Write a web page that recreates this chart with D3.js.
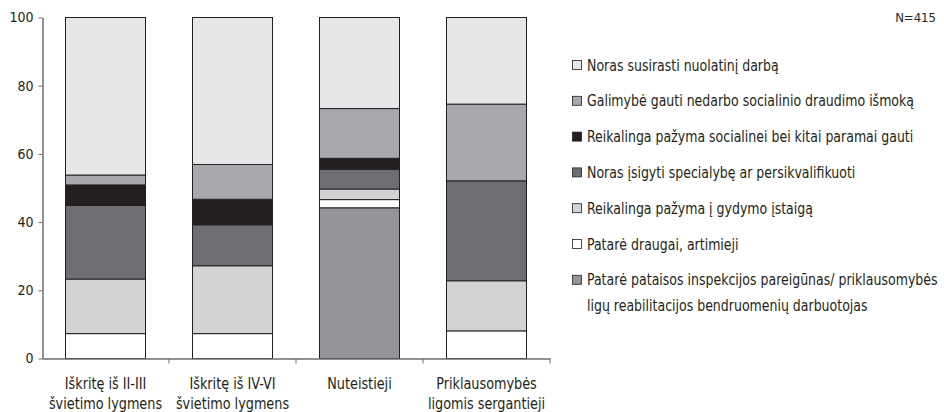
<!doctype html>
<html>
<head>
	<meta charset="utf-8">
	<script src="https://cdnjs.cloudflare.com/ajax/libs/d3/7.8.5/d3.min.js"></script>
	<style>
		body { margin: 0; background: #fff; }
		svg text { font-family: "Liberation Sans Narrow", "DejaVu Sans Condensed", "Roboto", sans-serif; fill: #231f20; }
		.axis path, .axis line { stroke: #6d6e71; }
	</style>
</head>
<body>
	<script>
		// categories (x axis), two lines each
		var categories = ["Iškritę iš II-III|švietimo lygmens", "Iškritę iš IV-VI|švietimo lygmens", "Nuteistieji", "Priklausomybės|ligomis sergantieji"];

		// series, stacked bottom to top
		var seriesNames = [
			"Patarė pataisos inspekcijos pareigūnas/ priklausomybės|ligų reabilitacijos bendruomenių darbuotojas",
			"Patarė draugai, artimieji",
			"Reikalinga pažyma į gydymo įstaigą",
			"Noras įsigyti specialybę ar persikvalifikuoti",
			"Reikalinga pažyma socialinei bei kitai paramai gauti",
			"Galimybė gauti nedarbo socialinio draudimo išmoką",
			"Noras susirasti nuolatinį darbą"
		];
		var seriesColors = ["#939598", "#ffffff", "#d1d3d4", "#6d6e71", "#231f20", "#a7a9ac", "#e6e7e8"];

		var inspekcija   = [0, 0, 44.2, 0];
		var draugai      = [7.3, 7.3, 2.4, 8.1];
		var gydymo       = [16.0, 19.9, 3.1, 14.7];
		var specialybe   = [21.6, 12.0, 5.8, 29.3];
		var socialinei   = [6.0, 7.5, 3.2, 0];
		var nedarbo      = [2.9, 10.2, 14.6, 22.5];
		var darbas       = [46.2, 43.1, 26.7, 25.4];
		var seriesValues = [inspekcija, draugai, gydymo, specialybe, socialinei, nedarbo, darbas];

		var yTicks = [0, 20, 40, 60, 80, 100];
		var legendOrder = [6, 5, 4, 3, 2, 1, 0];

		var width = 944, height = 412;
		var svg = d3.select("body").append("svg")
			.attr("width", width)
			.attr("height", height);

		var xScale = d3.scaleBand().domain(categories).range([42, 550]).padding(0);
		var yScale = d3.scaleLinear().domain([0, 100]).range([358.5, 17.5]);
		var barW = xScale.bandwidth() * 0.63;

		// build table for stack
		var table = categories.map(function(c, i) {
			var row = { cat: c };
			seriesValues.forEach(function(s, k) { row["s" + k] = s[i]; });
			return row;
		});
		var stack = d3.stack().keys(seriesValues.map(function(s, k) { return "s" + k; }));
		var stacked = stack(table);

		// bars
		svg.append("g").selectAll("g")
			.data(stacked)
			.enter().append("g")
				.attr("fill", function(d, k) { return seriesColors[k]; })
			.selectAll("rect")
			.data(function(d) { return d; })
			.enter().append("rect")
				.filter(function(d) { return d[1] - d[0] > 0; })
				.attr("x", function(d) { return xScale(d.data.cat) + (xScale.bandwidth() - barW) / 2; })
				.attr("y", function(d) { return yScale(d[1]); })
				.attr("width", barW)
				.attr("height", function(d) { return yScale(d[0]) - yScale(d[1]); })
				.attr("stroke", "#231f20")
				.attr("stroke-width", 1);

		// y axis
		var yAxis = svg.append("g")
			.attr("class", "axis")
			.attr("transform", "translate(42.5,0)")
			.call(d3.axisLeft(yScale).tickValues(yTicks).tickSize(4).tickSizeOuter(0));
		yAxis.selectAll("text").style("font-size", "14px").attr("dx", "-2px");
		yAxis.select(".domain").attr("stroke-width", 1.5);

		// x axis: labels without ticks, ticks on band boundaries
		var xAxis = svg.append("g")
			.attr("class", "axis")
			.attr("transform", "translate(0," + yScale(0) + ")")
			.call(d3.axisBottom(xScale).tickSize(0).tickSizeOuter(0).tickFormat(""));
		xAxis.select(".domain").attr("stroke-width", 1.5);
		xAxis.selectAll(".bound")
			.data(categories)
			.enter().append("line")
				.attr("class", "bound")
				.attr("x1", function(c) { return xScale(c) + xScale.bandwidth(); })
				.attr("x2", function(c) { return xScale(c) + xScale.bandwidth(); })
				.attr("y1", 0)
				.attr("y2", 5)
				.attr("stroke", "#6d6e71");

		svg.append("g").selectAll("text")
			.data(categories)
			.enter().append("text")
				.attr("transform", function(c) { return "translate(" + (xScale(c) + xScale.bandwidth() / 2) + ",389) scale(0.92,1)"; })
				.attr("text-anchor", "middle")
				.style("font-size", "15.5px")
				.each(function(c) {
					var parts = c.split("|");
					var t = d3.select(this);
					parts.forEach(function(p, i) {
						t.append("tspan")
							.attr("x", 0)
							.attr("dy", i == 0 ? 0 : 20)
							.text(p);
					});
				});

		// N label
		svg.append("text")
			.attr("x", 936)
			.attr("y", 22)
			.attr("text-anchor", "end")
			.style("font-size", "13px")
			.text("N=415");

		// legend
		var legend = svg.append("g").selectAll("g")
			.data(legendOrder)
			.enter().append("g")
				.attr("transform", function(k, i) { return "translate(572," + (65 + i * 35.8) + ")"; });
		legend.append("rect")
			.attr("x", 0.5)
			.attr("y", -4.5)
			.attr("width", 9)
			.attr("height", 9)
			.attr("fill", function(k) { return seriesColors[k]; })
			.attr("stroke", "#231f20")
			.attr("stroke-width", 0.8);
		legend.append("text")
			.attr("transform", "translate(15,5.5) scale(0.9,1)")
			.style("font-size", "15.5px")
			.each(function(k) {
				var parts = seriesNames[k].split("|");
				var t = d3.select(this);
				parts.forEach(function(p, i) {
					t.append("tspan")
						.attr("x", 0)
						.attr("dy", i == 0 ? 0 : 26)
						.text(p);
				});
			});
	</script>
</body>
</html>
